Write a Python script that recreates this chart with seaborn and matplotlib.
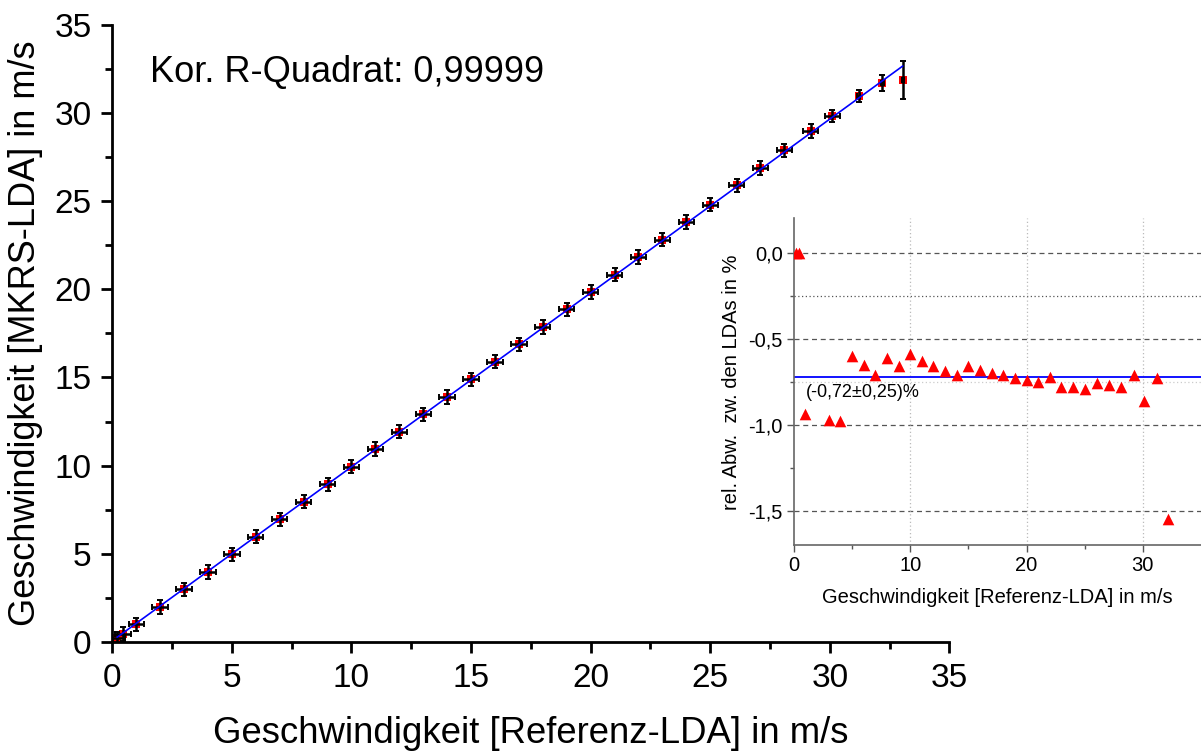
import matplotlib
matplotlib.use("Agg")
import matplotlib.pyplot as plt
import matplotlib.ticker as mticker
import numpy as np
import pandas as pd
import seaborn as sns

# ---------------- data ----------------
ref_speed = [0.2, 0.45, 1.0, 2.0, 3.0, 4.0, 5.0, 6.0, 7.0, 8.0, 9.0, 10.0, 11.0, 12.0,
             13.0, 14.0, 15.0, 16.0, 17.0, 18.0, 19.0, 20.0, 21.0, 22.0, 23.0, 24.0,
             25.0, 26.1, 27.1, 28.1, 29.2, 30.1, 31.2, 32.2, 33.05]
mkrs_speed = [0.2, 0.45, 0.99, 1.98, 2.97, 3.96, 4.97, 5.96, 6.95, 7.95, 8.94, 9.94,
              10.93, 11.92, 12.91, 13.90, 14.90, 15.89, 16.88, 17.87, 18.86, 19.85,
              20.84, 21.84, 22.82, 23.81, 24.80, 25.90, 26.89, 27.88, 28.99, 29.84,
              30.97, 31.70, 31.88]
x_err = [0.32] * 32 + [0.08, 0.06, 0.05]
y_err = [0.38] * 31 + [0.36, 0.36, 0.45, 1.08]

dev_speed = [0.2, 0.45, 1.0, 3.0, 4.0, 5.0, 6.0, 7.0, 8.0, 9.0, 10.0, 11.0, 12.0,
             13.0, 14.0, 15.0, 16.0, 17.0, 18.0, 19.0, 20.0, 21.0, 22.0, 23.0, 24.0,
             25.0, 26.1, 27.1, 28.1, 29.2, 30.1, 31.2, 32.2]
rel_dev = [0.0, 0.0, -0.94, -0.97, -0.98, -0.60, -0.65, -0.71, -0.61, -0.66, -0.59,
           -0.63, -0.66, -0.69, -0.71, -0.66, -0.68, -0.70, -0.71, -0.73, -0.74,
           -0.75, -0.72, -0.78, -0.78, -0.79, -0.76, -0.77, -0.78, -0.71, -0.86,
           -0.73, -1.55]
mean_dev = -0.72
mean_dev_text = "(-0,72±0,25)%"
r2_text = "Kor. R-Quadrat: 0,99999"

main_ticks = [0, 5, 10, 15, 20, 25, 30, 35]
inset_xticks = [0, 10, 20, 30]
inset_yticks = [0.0, -0.5, -1.0, -1.5]
inset_yticklabels = ["0,0", "-0,5", "-1,0", "-1,5"]

main_df = pd.DataFrame({"ref": ref_speed, "mkrs": mkrs_speed})
dev_df = pd.DataFrame({"ref": dev_speed, "dev": rel_dev})

# ---------------- style ----------------
sns.set_theme(style="white")
plt.rcParams["font.family"] = ["Liberation Sans", "DejaVu Sans"]
plt.rcParams["axes.unicode_minus"] = False

fig = plt.figure(figsize=(12.01, 7.56), dpi=100)

# ---------------- main axes ----------------
ax = fig.add_axes([0.0935, 0.151, 0.697, 0.816])
ax.set_facecolor("white")

sns.scatterplot(data=main_df, x="ref", y="mkrs", ax=ax, marker="s", s=36,
                color="red", edgecolor="red", linewidth=0, zorder=2, legend=False)
ax.errorbar(ref_speed, mkrs_speed, xerr=x_err, yerr=y_err, fmt="none",
            ecolor="black", elinewidth=1.8, capsize=2.2, capthick=1.4, zorder=3)
sns.regplot(data=main_df, x="ref", y="mkrs", ax=ax, scatter=False, ci=None,
            truncate=True, line_kws={"color": "blue", "lw": 1.2, "zorder": 4})

ax.set_xlim(0, 35)
ax.set_ylim(0, 35)
ax.xaxis.set_major_locator(mticker.FixedLocator(main_ticks))
ax.yaxis.set_major_locator(mticker.FixedLocator(main_ticks))
ax.xaxis.set_minor_locator(mticker.MultipleLocator(2.5))
ax.yaxis.set_minor_locator(mticker.MultipleLocator(2.5))
ax.tick_params(which="major", direction="out", length=8, width=2, labelsize=24,
               colors="black", pad=7)
ax.tick_params(which="minor", direction="out", length=5, width=2, colors="black")
ax.tick_params(axis="x", which="both", bottom=True)
ax.tick_params(axis="y", which="both", left=True)
for s in ["top", "right"]:
    ax.spines[s].set_visible(False)
for s in ["left", "bottom"]:
    ax.spines[s].set_color("black")
    ax.spines[s].set_linewidth(2)
ax.set_xlabel("Geschwindigkeit [Referenz-LDA] in m/s", fontsize=26.3, color="black",
              labelpad=16)
ax.set_ylabel("Geschwindigkeit [MKRS-LDA] in m/s", fontsize=26, color="black",
              labelpad=8)
ax.text(0.045, 0.923, r2_text, transform=ax.transAxes, fontsize=26, color="black",
        ha="left", va="center")

# ---------------- inset axes ----------------
ins = fig.add_axes([0.661, 0.279, 0.339, 0.432])
ins.patch.set_alpha(0)
ins.set_xlim(0, 35)
ins.set_ylim(-1.7, 0.2)

for yv in inset_yticks:
    ins.axhline(yv, color="#555555", lw=0.9, ls=(0, (4, 3)), zorder=1)
ins.axhline(-0.25, color="#555555", lw=0.9, ls=(0, (1, 2)), zorder=1)
ins.axhline(-0.75, color="#cccccc", lw=0.9, ls=(0, (1, 2)), zorder=1)
for xv in inset_xticks[1:]:
    ins.axvline(xv, color="#bbbbbb", lw=0.9, ls=(0, (1, 2)), zorder=1)

ins.axhline(mean_dev, color="blue", lw=1.3, zorder=2)
sns.scatterplot(data=dev_df, x="ref", y="dev", ax=ins, marker="^", s=70,
                color="red", edgecolor="red", linewidth=0, zorder=3, legend=False,
                clip_on=True)
ins.text(1.0, -0.815, mean_dev_text, fontsize=13, color="black", ha="left",
         va="center")

ins.xaxis.set_major_locator(mticker.FixedLocator(inset_xticks))
ins.xaxis.set_minor_locator(mticker.FixedLocator([5, 15, 25]))
ins.yaxis.set_major_locator(mticker.FixedLocator(inset_yticks))
ins.yaxis.set_major_formatter(mticker.FixedFormatter(inset_yticklabels))
ins.yaxis.set_minor_locator(mticker.FixedLocator([-0.25, -0.75, -1.25]))
ins.tick_params(which="major", direction="out", length=5, width=1, labelsize=14.5,
                colors="#555555", labelcolor="black", pad=3)
ins.tick_params(which="minor", direction="out", length=3, width=1, colors="#555555")
ins.tick_params(axis="x", which="both", bottom=True)
ins.tick_params(axis="y", which="both", left=True)
for s in ["top", "right"]:
    ins.spines[s].set_visible(False)
for s in ["left", "bottom"]:
    ins.spines[s].set_color("#666666")
    ins.spines[s].set_linewidth(1.2)
ins.set_xlabel("Geschwindigkeit [Referenz-LDA] in m/s", fontsize=14.5, color="black",
               labelpad=9)
ins.set_ylabel("rel. Abw.  zw. den LDAs in %", fontsize=14.5, color="black",
               labelpad=5)

fig.savefig("out.png", dpi=100, facecolor="white")
